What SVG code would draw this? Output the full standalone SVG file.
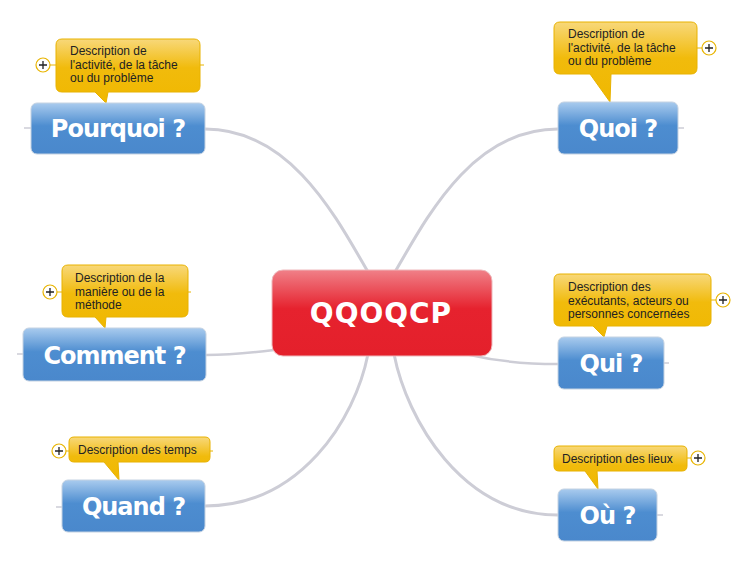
<svg xmlns="http://www.w3.org/2000/svg" width="750" height="563" viewBox="0 0 750 563">
<defs>
<linearGradient id="gBlue" x1="0" y1="0" x2="0" y2="1">
<stop offset="0" stop-color="#a9cbee"/>
<stop offset="0.45" stop-color="#4d8dd0"/>
<stop offset="1" stop-color="#4a88cc"/>
</linearGradient>
<linearGradient id="gRed" x1="0" y1="0" x2="0" y2="1">
<stop offset="0" stop-color="#f08088"/>
<stop offset="0.45" stop-color="#e6222e"/>
<stop offset="1" stop-color="#e4202b"/>
</linearGradient>
<linearGradient id="gYel" x1="0" y1="0" x2="0" y2="1">
<stop offset="0" stop-color="#f8d87a"/>
<stop offset="0.45" stop-color="#f1bb0c"/>
<stop offset="1" stop-color="#f0b800"/>
</linearGradient>
</defs>
<style>
.conn{fill:none;stroke:#cdcdd6;stroke-linecap:round}
.stub{fill:none;stroke:#cdcdd6;stroke-width:1.5}
.blue{fill:url(#gBlue);stroke:#c4d2e2;stroke-width:1}
.red{fill:url(#gRed);stroke:#eeb8bc;stroke-width:1}
.call{fill:url(#gYel);stroke:#e8b200;stroke-width:1}
.plus{fill:#fff;stroke:#e8b400;stroke-width:1.2}
.pl{stroke:#222;stroke-width:1.3}
.gl{stroke:#e8b400;stroke-width:1}
.bt{font-family:"DejaVu Sans",Verdana,sans-serif;font-weight:bold;font-size:24px;fill:#fff;text-anchor:middle;letter-spacing:-1px}
.ct{font-family:"DejaVu Sans",Verdana,sans-serif;font-weight:bold;font-size:28px;fill:#fff;text-anchor:middle;letter-spacing:1px}
.st{font-family:"Liberation Sans",Arial,sans-serif;font-size:12px;fill:#222}
</style>
<g id="connectors">
<path class="conn" stroke-width="3" d="M205,129 C290,129 335,215 368,272"/>
<path class="conn" stroke-width="3" d="M558,129 C473,129 428,215 395,272"/>
<path class="conn" stroke-width="3" d="M368,354 C355,420 300,506 205,506"/>
<path class="conn" stroke-width="3" d="M394,354 C407,420 462,515 558,515"/>
<path class="conn" stroke-width="2.5" d="M206,355 C230,355 250,353 274,350"/>
<path class="conn" stroke-width="2.5" d="M470,355 C500,362 530,364 558,364"/>
<path class="stub" d="M24,128 H31 M678,128 H684 M17,354 H23 M664,363 H669 M56,507 H62 M657,515 H663"/>
</g>
<g id="center">
<rect class="red" x="272" y="270" width="220" height="86" rx="11"/>
<text class="ct" x="381" y="323">QQOQCP</text>
</g>
<g id="pourquoi">
<line class="gl" x1="50" y1="65" x2="56" y2="65"/>
<line class="gl" x1="200" y1="65" x2="204" y2="65"/>
<path class="call" d="M62,39 H194 Q200,39 200,45 V86 Q200,92 194,92 H108 L106,103 L95,92 H62 Q56,92 56,86 V45 Q56,39 62,39 Z"/>
<text class="st"><tspan x="70" y="55">Description de</tspan><tspan x="70" y="68.5">l'activité, de la tâche</tspan><tspan x="70" y="82">ou du problème</tspan></text>
<circle class="plus" cx="43" cy="65" r="7"/>
<path class="pl" d="M39,65 H47 M43,61 V69"/>
<rect class="blue" x="31" y="103" width="174" height="51" rx="6"/>
<text class="bt" x="118" y="137">Pourquoi ?</text>
</g>
<g id="quoi">
<line class="gl" x1="697" y1="48" x2="702" y2="48"/>
<path class="call" d="M560,22 H691 Q697,22 697,28 V68 Q697,74 691,74 H611 L610,102 L590,74 H560 Q554,74 554,68 V28 Q554,22 560,22 Z"/>
<text class="st"><tspan x="568" y="38">Description de</tspan><tspan x="568" y="51.5">l'activité, de la tâche</tspan><tspan x="568" y="65">ou du problème</tspan></text>
<circle class="plus" cx="709" cy="48" r="7"/>
<path class="pl" d="M705,48 H713 M709,44 V52"/>
<rect class="blue" x="558" y="102" width="120" height="52" rx="6"/>
<text class="bt" x="618" y="137">Quoi ?</text>
</g>
<g id="comment">
<line class="gl" x1="57" y1="292" x2="62" y2="292"/>
<line class="gl" x1="188" y1="292" x2="191" y2="292"/>
<path class="call" d="M68,265 H182 Q188,265 188,271 V311 Q188,317 182,317 H106 L105,328 L95,317 H68 Q62,317 62,311 V271 Q62,265 68,265 Z"/>
<text class="st"><tspan x="75" y="282">Description de la</tspan><tspan x="75" y="295.5">manière ou de la</tspan><tspan x="75" y="309">méthode</tspan></text>
<circle class="plus" cx="50" cy="292" r="7"/>
<path class="pl" d="M46,292 H54 M50,288 V296"/>
<rect class="blue" x="23" y="328" width="183" height="53" rx="6"/>
<text class="bt" x="114.5" y="364">Comment ?</text>
</g>
<g id="qui">
<line class="gl" x1="711" y1="300" x2="716" y2="300"/>
<path class="call" d="M560,274 H705 Q711,274 711,280 V320 Q711,326 705,326 H607 L604,337 L593,326 H560 Q554,326 554,320 V280 Q554,274 560,274 Z"/>
<text class="st"><tspan x="568" y="291">Description des</tspan><tspan x="568" y="304.5">exécutants, acteurs ou</tspan><tspan x="568" y="318">personnes concernées</tspan></text>
<circle class="plus" cx="723" cy="300" r="7"/>
<path class="pl" d="M719,300 H727 M723,296 V304"/>
<rect class="blue" x="558" y="337" width="106" height="52" rx="6"/>
<text class="bt" x="611" y="372">Qui ?</text>
</g>
<g id="quand">
<line class="gl" x1="66" y1="451" x2="69" y2="451"/>
<line class="gl" x1="210" y1="451" x2="213" y2="451"/>
<path class="call" d="M74,437 H205 Q210,437 210,442 V457 Q210,462 205,462 H118 L119,480 L104,462 H74 Q69,462 69,457 V442 Q69,437 74,437 Z"/>
<text class="st" x="78" y="454">Description des temps</text>
<circle class="plus" cx="59" cy="451" r="7"/>
<path class="pl" d="M55,451 H63 M59,447 V455"/>
<rect class="blue" x="62" y="480" width="143" height="52" rx="6"/>
<text class="bt" x="133.5" y="515">Quand ?</text>
</g>
<g id="ou">
<line class="gl" x1="687" y1="458" x2="691" y2="458"/>
<path class="call" d="M559,446 H682 Q687,446 687,451 V466 Q687,471 682,471 H597 L598,489 L585,471 H559 Q554,471 554,466 V451 Q554,446 559,446 Z"/>
<text class="st" x="562" y="463">Description des lieux</text>
<circle class="plus" cx="698" cy="458" r="7"/>
<path class="pl" d="M694,458 H702 M698,454 V462"/>
<rect class="blue" x="558" y="489" width="99" height="52" rx="6"/>
<text class="bt" x="607.5" y="524">Où ?</text>
</g>
</svg>
